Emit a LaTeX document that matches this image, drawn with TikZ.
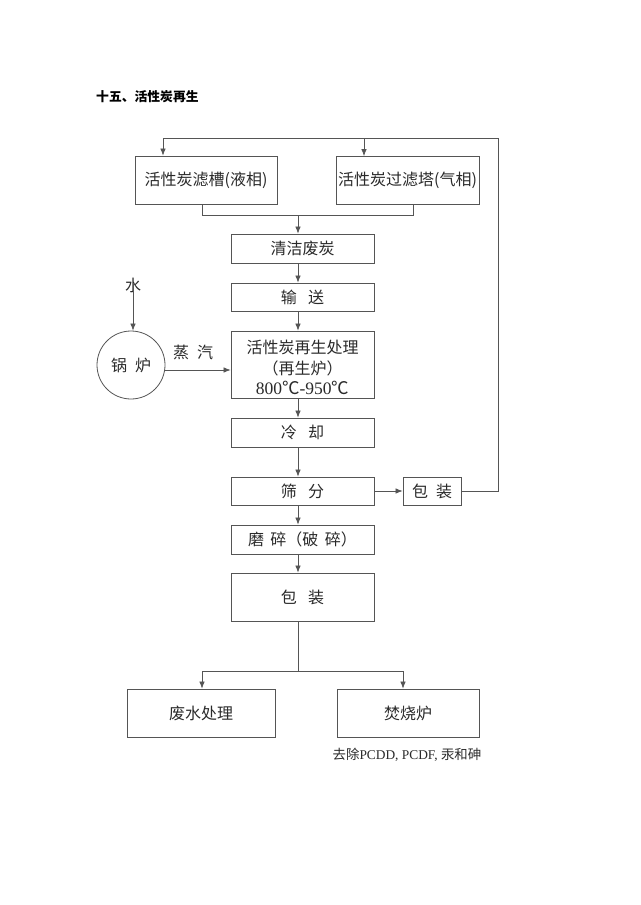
\documentclass[tikz,border=0pt]{standalone}
\usepackage{fontspec}
\setmainfont{Liberation Serif}
\newfontfamily\cjk{Noto Sans CJK SC}
\usetikzlibrary{arrows.meta,calc}
\definecolor{ln}{HTML}{555555}
\definecolor{tx}{HTML}{2A2A2A}
\begin{document}
\begin{tikzpicture}[x=1pt,y=-1pt,
  box/.style={draw=ln,line width=0.8pt,rectangle,inner sep=0pt,text=tx,font=\cjk\fontsize{16}{18}\selectfont,align=center},
  conn/.style={draw=ln,line width=0.7pt},
  arr/.style={conn,-{Latex[length=7pt,width=5.5pt]}},
  lbl/.style={inner sep=0pt,text=tx,font=\cjk\fontsize{16}{18}\selectfont}]
\useasboundingbox (0,0) rectangle (640,905);
\fill[white] (0,0) rectangle (640,905);
% title
\node[inner sep=0pt,anchor=west,font=\cjk\bfseries\fontsize{12.8}{14}\selectfont] (title) at (96,97) {十五、活性炭再生};
% top boxes
\node[box,minimum width=142pt,minimum height=48pt] (b1) at (206,180) {活性炭滤槽(液相)};
\node[box,minimum width=143pt,minimum height=48pt] (b2) at (407.5,180.5) {活性炭过滤塔(气相)};
% main column
\coordinate (col) at (298,0);
\node[box,minimum width=143pt,minimum height=29pt] (c1) at (302.5,248.5) {清洁废炭};
\node[box,minimum width=143pt,minimum height=28pt] (c2) at (302.5,297) {输\hspace{0.7em}送};
\node[box,minimum width=143pt,minimum height=67pt] (c3) at (302.5,364.5) {};
\node[lbl] (c3a) at (302.5,347) {活性炭再生处理};
\node[lbl] (c3b) at (302.5,368) {（再生炉）};
\node[lbl,font=\fontsize{17.5}{18}\selectfont] (c3c) at (302.5,388) {800{\cjk ℃}-950{\cjk ℃}};
\node[box,minimum width=143pt,minimum height=29pt] (c4) at (302.5,432.5) {冷\hspace{0.7em}却};
\node[box,minimum width=143pt,minimum height=28pt] (c5) at (302.5,491) {筛\hspace{0.7em}分};
\node[box,minimum width=58pt,minimum height=28pt] (p1) at (432,491) {包\hspace{0.5em}装};
\node[box,minimum width=143pt,minimum height=29pt] (c6) at (302.5,539.5) {磨\hspace{0.4em}碎（破\hspace{0.4em}碎）};
\node[box,minimum width=143pt,minimum height=48pt] (c7) at (302.5,597) {包\hspace{0.7em}装};
% bottom boxes
\node[box,minimum width=148pt,minimum height=48pt] (d1) at (201,713) {废水处理};
\node[box,minimum width=142pt,minimum height=48pt] (d2) at (408,713) {焚烧炉};
\node[inner sep=0pt,text=tx,font=\fontsize{13.4}{15}\selectfont] (note) at (407,755) {{\cjk 去除}PCDD, PCDF, {\cjk 汞和砷}};
% boiler
\node[lbl] (water) at (133,285) {水};
\node[draw=ln,line width=0.8pt,circle,minimum size=68pt,inner sep=0pt,text=tx,font=\cjk\fontsize{16}{18}\selectfont] (boiler) at (131,365) {锅\hspace{0.5em}炉};
\node[lbl] (steam) at (193,352) {蒸\hspace{0.5em}汽};
\coordinate (sy) at (0,370);
% connectors: top feedback
\coordinate (tl) at (163,138);
\coordinate (tm) at (364,138);
\coordinate (tr) at (498,138);
\draw[conn] (p1.east) -- (p1.east -| tr) -- (tr) -- (tl);
\draw[arr] (tl) -- (tl |- b1.north);
\draw[arr] (tm) -- (tm |- b2.north);
% join of top boxes
\coordinate (jl) at (202,215);
\coordinate (jr) at (413,215);
\draw[conn] (jl |- b1.south) -- (jl) -- (jr) -- (jr |- b2.south);
\draw[arr] (col |- jl) -- (col |- c1.north);
\draw[arr] (col |- c1.south) -- (col |- c2.north);
\draw[arr] (col |- c2.south) -- (col |- c3.north);
\draw[arr] (col |- c3.south) -- (col |- c4.north);
\draw[arr] (col |- c4.south) -- (col |- c5.north);
\draw[arr] (col |- c5.south) -- (col |- c6.north);
\draw[arr] (col |- c6.south) -- (col |- c7.north);
\draw[arr] (c5.east) -- (p1.west);
% bottom split
\coordinate (kl) at (202,671);
\coordinate (kr) at (403,671);
\draw[conn] (col |- c7.south) -- (col |- kl);
\draw[conn] (kl) -- (kr);
\draw[arr] (kl) -- (kl |- d1.north);
\draw[arr] (kr) -- (kr |- d2.north);
% boiler connectors
\draw[arr] ([yshift=10pt]water.south) -- (boiler.north -| water);
\draw[arr] (boiler.east |- sy) -- (c3.west |- sy);
\end{tikzpicture}
\end{document}
